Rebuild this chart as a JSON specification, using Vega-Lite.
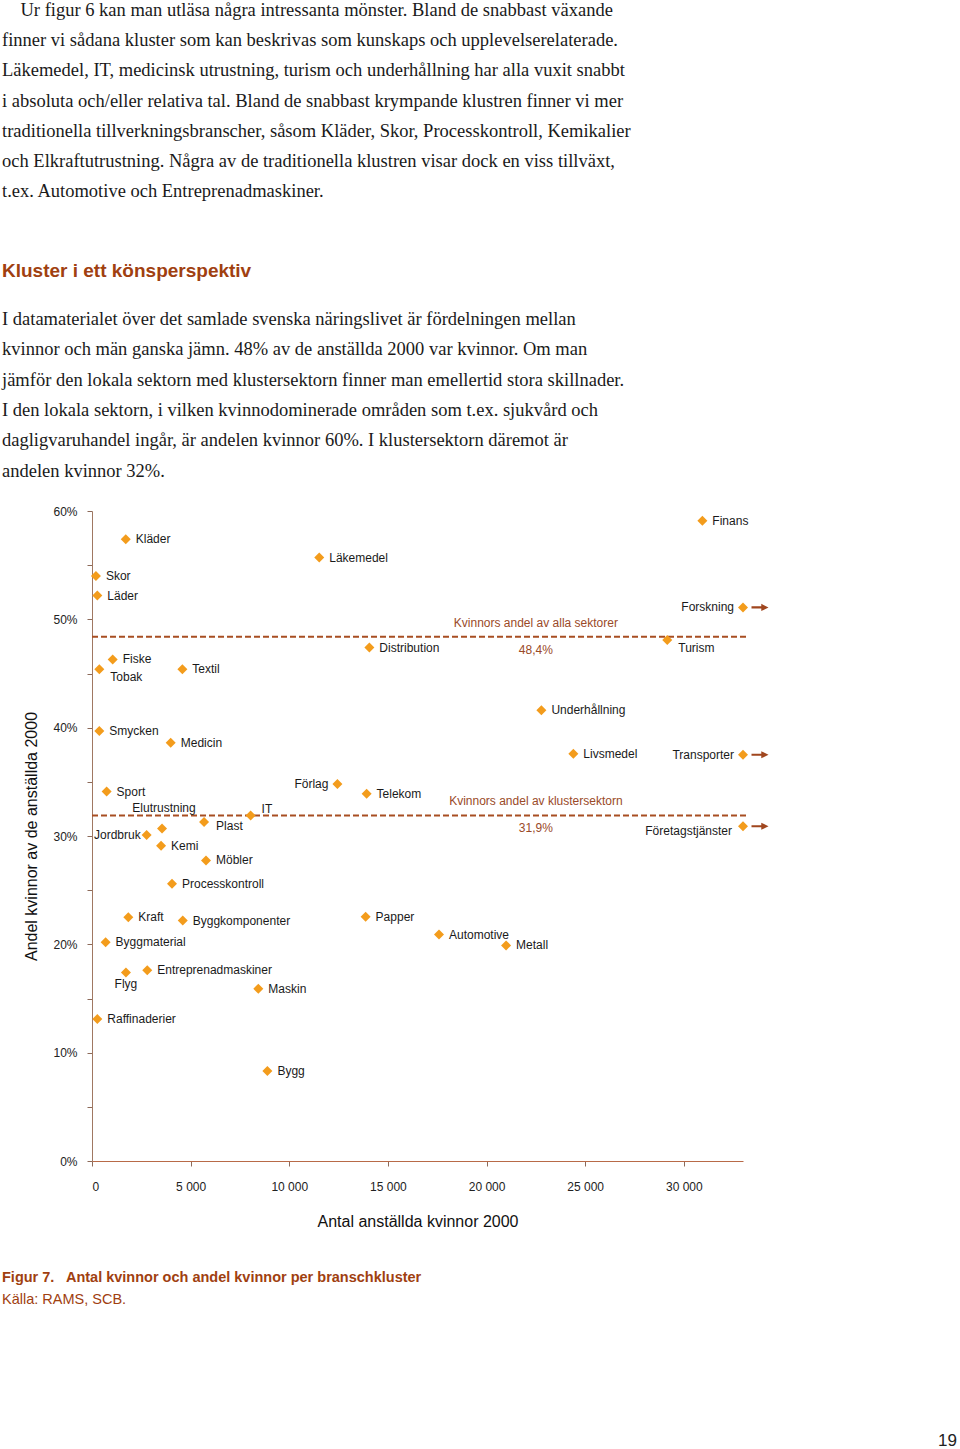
{
  "$schema": "https://vega.github.io/schema/vega-lite/v6.json",
  "padding": {"left": 2, "top": 0, "right": 0, "bottom": 0},
  "background": "white",
  "config": {"view": {"stroke": null}},
  "bounds": "flush",
  "spacing": 152,
  "title": {
    "text": [
      "\u200b\u2002\u2002Ur figur 6 kan man utläsa några intressanta mönster. Bland de snabbast växande",
      "finner vi sådana kluster som kan beskrivas som kunskaps och upplevelserelaterade.",
      "Läkemedel, IT, medicinsk utrustning, turism och underhållning har alla vuxit snabbt",
      "i absoluta och/eller relativa tal. Bland de snabbast krympande klustren finner vi mer",
      "traditionella tillverkningsbranscher, såsom Kläder, Skor, Processkontroll, Kemikalier",
      "och Elkraftutrustning. Några av de traditionella klustren visar dock en viss tillväxt,",
      "t.ex. Automotive och Entreprenadmaskiner."
    ],
    "subtitle": "Kluster i ett könsperspektiv",
    "anchor": "start",
    "frame": "group",
    "dx": -90,
    "font": "Liberation Serif",
    "fontSize": 18.5,
    "fontWeight": "normal",
    "color": "#1a1a1a",
    "lineHeight": 30.3,
    "subtitleFont": "Liberation Sans",
    "subtitleFontSize": 19,
    "subtitleFontWeight": "bold",
    "subtitleColor": "#A04010",
    "subtitlePadding": 61,
    "offset": 29
  },
  "datasets": {
    "points": [
      {"name": "Kläder", "antal": 1710, "andel": 0.574, "pos": "r", "off": false},
      {"name": "Läkemedel", "antal": 11520, "andel": 0.557, "pos": "r", "off": false},
      {"name": "Skor", "antal": 200, "andel": 0.540, "pos": "r", "off": false},
      {"name": "Läder", "antal": 270, "andel": 0.522, "pos": "r", "off": false},
      {"name": "Fiske", "antal": 1050, "andel": 0.463, "pos": "r", "off": false},
      {"name": "Tobak", "antal": 370, "andel": 0.454, "pos": "br", "off": false},
      {"name": "Textil", "antal": 4580, "andel": 0.454, "pos": "r", "off": false},
      {"name": "Distribution", "antal": 14060, "andel": 0.474, "pos": "r", "off": false},
      {"name": "Finans", "antal": 30940, "andel": 0.591, "pos": "r", "off": false},
      {"name": "Forskning", "antal": 33000, "andel": 0.511, "pos": "l", "off": true},
      {"name": "Turism", "antal": 29160, "andel": 0.481, "pos": "br", "off": false},
      {"name": "Underhållning", "antal": 22780, "andel": 0.416, "pos": "r", "off": false},
      {"name": "Smycken", "antal": 370, "andel": 0.397, "pos": "r", "off": false},
      {"name": "Medicin", "antal": 3990, "andel": 0.386, "pos": "r", "off": false},
      {"name": "Sport", "antal": 740, "andel": 0.341, "pos": "r", "off": false},
      {"name": "Förlag", "antal": 12440, "andel": 0.348, "pos": "l", "off": false},
      {"name": "Telekom", "antal": 13920, "andel": 0.339, "pos": "r", "off": false},
      {"name": "IT", "antal": 8040, "andel": 0.319, "pos": "ra", "off": false},
      {"name": "Plast", "antal": 5680, "andel": 0.313, "pos": "rb", "off": false},
      {"name": "Elutrustning", "antal": 3550, "andel": 0.307, "pos": "a", "off": false},
      {"name": "Jordbruk", "antal": 2770, "andel": 0.301, "pos": "lc", "off": false},
      {"name": "Kemi", "antal": 3500, "andel": 0.291, "pos": "r", "off": false},
      {"name": "Möbler", "antal": 5780, "andel": 0.2775, "pos": "r", "off": false},
      {"name": "Processkontroll", "antal": 4055, "andel": 0.256, "pos": "r", "off": false},
      {"name": "Kraft", "antal": 1840, "andel": 0.225, "pos": "r", "off": false},
      {"name": "Byggkomponenter", "antal": 4600, "andel": 0.222, "pos": "r", "off": false},
      {"name": "Papper", "antal": 13870, "andel": 0.2255, "pos": "r", "off": false},
      {"name": "Livsmedel", "antal": 24400, "andel": 0.376, "pos": "r", "off": false},
      {"name": "Transporter", "antal": 33000, "andel": 0.375, "pos": "l", "off": true},
      {"name": "Företagstjänster", "antal": 33000, "andel": 0.309, "pos": "lb", "off": true},
      {"name": "Byggmaterial", "antal": 690, "andel": 0.202, "pos": "r", "off": false},
      {"name": "Flyg", "antal": 1720, "andel": 0.174, "pos": "b", "off": false},
      {"name": "Entreprenadmaskiner", "antal": 2800, "andel": 0.176, "pos": "r", "off": false},
      {"name": "Maskin", "antal": 8430, "andel": 0.159, "pos": "r", "off": false},
      {"name": "Raffinaderier", "antal": 270, "andel": 0.131, "pos": "r", "off": false},
      {"name": "Bygg", "antal": 8890, "andel": 0.083, "pos": "r", "off": false},
      {"name": "Automotive", "antal": 17590, "andel": 0.209, "pos": "r", "off": false},
      {"name": "Metall", "antal": 20990, "andel": 0.199, "pos": "r", "off": false}
    ],
    "refs": [
      {"value": 0.484, "label": "Kvinnors andel av alla sektorer", "pct": "48,4%"},
      {"value": 0.319, "label": "Kvinnors andel av klustersektorn", "pct": "31,9%"}
    ]
  },
  "vconcat": [
    {
      "width": 651,
      "height": 650,
      "title": {
        "text": [
          "I datamaterialet över det samlade svenska näringslivet är fördelningen mellan",
          "kvinnor och män ganska jämn. 48% av de anställda 2000 var kvinnor. Om man",
          "jämför den lokala sektorn med klustersektorn finner man emellertid stora skillnader.",
          "I den lokala sektorn, i vilken kvinnodominerade områden som t.ex. sjukvård och",
          "dagligvaruhandel ingår, är andelen kvinnor 60%. I klustersektorn däremot är",
          "andelen kvinnor 32%."
        ],
        "anchor": "start",
        "frame": "group",
        "dx": -90,
        "font": "Liberation Serif",
        "fontSize": 18.5,
        "fontWeight": "normal",
        "color": "#1a1a1a",
        "lineHeight": 30.3,
        "offset": 25
      },
      "encoding": {
        "x": {
          "type": "quantitative",
          "scale": {"domain": [0, 33000], "nice": false},
          "axis": {
            "title": "Antal anställda kvinnor 2000",
            "values": [0, 5000, 10000, 15000, 20000, 25000, 30000],
            "labelExpr": "replace(format(datum.value, ','), ',', ' ')",
            "grid": false,
            "domainColor": "#B86A48",
            "tickColor": "#8C6A5A",
            "tickSize": 5,
            "labelPadding": 15,
            "labelFont": "Liberation Sans",
            "labelFontSize": 12,
            "labelColor": "#222222",
            "titleFont": "Liberation Sans",
            "titleFontSize": 16,
            "titleFontWeight": "normal",
            "titleColor": "#111111",
            "titlePadding": 21
          }
        },
        "y": {
          "type": "quantitative",
          "scale": {"domain": [0, 0.6], "nice": false},
          "axis": {
            "title": "Andel kvinnor av de anställda 2000",
            "values": [0, 0.05, 0.1, 0.15, 0.2, 0.25, 0.3, 0.35, 0.4, 0.45, 0.5, 0.55, 0.6],
            "labelExpr": "round(datum.value * 100) % 10 == 0 ? format(datum.value, '.0%') : ''",
            "grid": false,
            "domainColor": "#A07862",
            "tickColor": "#8C6A5A",
            "tickSize": 5,
            "labelPadding": 10,
            "labelFont": "Liberation Sans",
            "labelFontSize": 12,
            "labelColor": "#222222",
            "titleFont": "Liberation Sans",
            "titleFontSize": 16,
            "titleFontWeight": "normal",
            "titleColor": "#111111",
            "titlePadding": 13
          }
        }
      },
      "layer": [
        {
          "data": {"name": "refs"},
          "mark": {"type": "rule", "strokeDash": [6, 3], "strokeWidth": 2, "color": "#A84E22", "clip": false},
          "encoding": {
            "y": {"field": "value", "type": "quantitative"},
            "x": {"datum": 0},
            "x2": {"datum": 33250}
          }
        },
        {
          "data": {"name": "refs"},
          "mark": {"type": "text", "dy": -14, "color": "#9A4A28", "font": "Liberation Sans", "fontSize": 12},
          "encoding": {
            "y": {"field": "value", "type": "quantitative"},
            "x": {"datum": 22500},
            "text": {"field": "label"}
          }
        },
        {
          "data": {"name": "refs"},
          "mark": {"type": "text", "dy": 13, "color": "#9A4A28", "font": "Liberation Sans", "fontSize": 12},
          "encoding": {
            "y": {"field": "value", "type": "quantitative"},
            "x": {"datum": 22500},
            "text": {"field": "pct"}
          }
        },
        {
          "data": {"name": "points"},
          "transform": [{"filter": "datum.off"}],
          "mark": {"type": "point", "shape": "M-1,-0.13L0.15,-0.13L0.15,-0.42L1,0L0.15,0.42L0.15,0.13L-1,0.13Z", "size": 289, "filled": true, "opacity": 1, "color": "#A0461E", "xOffset": 17, "clip": false},
          "encoding": {
            "x": {"field": "antal", "type": "quantitative"},
            "y": {"field": "andel", "type": "quantitative"}
          }
        },
        {
          "data": {"name": "points"},
          "mark": {"type": "point", "shape": "diamond", "size": 100, "filled": true, "opacity": 1, "color": "#F39C1C", "clip": false},
          "encoding": {
            "x": {"field": "antal", "type": "quantitative"},
            "y": {"field": "andel", "type": "quantitative"}
          }
        },
        {
          "data": {"name": "points"},
          "transform": [{"filter": "datum.pos == 'r'"}],
          "mark": {"type": "text", "align": "left", "baseline": "middle", "dx": 10, "font": "Liberation Sans", "fontSize": 12, "color": "#1a1a1a"},
          "encoding": {"x": {"field": "antal", "type": "quantitative"}, "y": {"field": "andel", "type": "quantitative"}, "text": {"field": "name"}}
        },
        {
          "data": {"name": "points"},
          "transform": [{"filter": "datum.pos == 'l'"}],
          "mark": {"type": "text", "align": "right", "baseline": "middle", "dx": -9, "font": "Liberation Sans", "fontSize": 12, "color": "#1a1a1a"},
          "encoding": {"x": {"field": "antal", "type": "quantitative"}, "y": {"field": "andel", "type": "quantitative"}, "text": {"field": "name"}}
        },
        {
          "data": {"name": "points"},
          "transform": [{"filter": "datum.pos == 'lc'"}],
          "mark": {"type": "text", "align": "right", "baseline": "middle", "dx": -6, "font": "Liberation Sans", "fontSize": 12, "color": "#1a1a1a"},
          "encoding": {"x": {"field": "antal", "type": "quantitative"}, "y": {"field": "andel", "type": "quantitative"}, "text": {"field": "name"}}
        },
        {
          "data": {"name": "points"},
          "transform": [{"filter": "datum.pos == 'br'"}],
          "mark": {"type": "text", "align": "left", "baseline": "middle", "dx": 11, "dy": 8, "font": "Liberation Sans", "fontSize": 12, "color": "#1a1a1a"},
          "encoding": {"x": {"field": "antal", "type": "quantitative"}, "y": {"field": "andel", "type": "quantitative"}, "text": {"field": "name"}}
        },
        {
          "data": {"name": "points"},
          "transform": [{"filter": "datum.pos == 'rb'"}],
          "mark": {"type": "text", "align": "left", "baseline": "middle", "dx": 12, "dy": 4, "font": "Liberation Sans", "fontSize": 12, "color": "#1a1a1a"},
          "encoding": {"x": {"field": "antal", "type": "quantitative"}, "y": {"field": "andel", "type": "quantitative"}, "text": {"field": "name"}}
        },
        {
          "data": {"name": "points"},
          "transform": [{"filter": "datum.pos == 'ra'"}],
          "mark": {"type": "text", "align": "left", "baseline": "middle", "dx": 11, "dy": -6, "font": "Liberation Sans", "fontSize": 12, "color": "#1a1a1a"},
          "encoding": {"x": {"field": "antal", "type": "quantitative"}, "y": {"field": "andel", "type": "quantitative"}, "text": {"field": "name"}}
        },
        {
          "data": {"name": "points"},
          "transform": [{"filter": "datum.pos == 'lb'"}],
          "mark": {"type": "text", "align": "right", "baseline": "middle", "dx": -11, "dy": 5, "font": "Liberation Sans", "fontSize": 12, "color": "#1a1a1a"},
          "encoding": {"x": {"field": "antal", "type": "quantitative"}, "y": {"field": "andel", "type": "quantitative"}, "text": {"field": "name"}}
        },
        {
          "data": {"name": "points"},
          "transform": [{"filter": "datum.pos == 'a'"}],
          "mark": {"type": "text", "align": "center", "baseline": "middle", "dx": 2, "dy": -20, "font": "Liberation Sans", "fontSize": 12, "color": "#1a1a1a"},
          "encoding": {"x": {"field": "antal", "type": "quantitative"}, "y": {"field": "andel", "type": "quantitative"}, "text": {"field": "name"}}
        },
        {
          "data": {"name": "points"},
          "transform": [{"filter": "datum.pos == 'b'"}],
          "mark": {"type": "text", "align": "center", "baseline": "middle", "dy": 11, "font": "Liberation Sans", "fontSize": 12, "color": "#1a1a1a"},
          "encoding": {"x": {"field": "antal", "type": "quantitative"}, "y": {"field": "andel", "type": "quantitative"}, "text": {"field": "name"}}
        }
      ]
    },
    {
      "width": 865,
      "height": 137,
      "title": {
        "text": "Figur 7.\u00a0\u00a0 Antal kvinnor och andel kvinnor per branschkluster",
        "subtitle": "Källa: RAMS, SCB.",
        "anchor": "start",
        "frame": "group",
        "dx": -90,
        "font": "Liberation Sans",
        "fontSize": 14.5,
        "fontWeight": "bold",
        "color": "#A04010",
        "subtitleFont": "Liberation Sans",
        "subtitleFontSize": 14.5,
        "subtitleColor": "#A04010",
        "subtitlePadding": 7,
        "offset": 6
      },
      "data": {"values": [{"page": "19"}]},
      "mark": {"type": "text", "align": "right", "baseline": "bottom", "font": "Liberation Sans", "fontSize": 17, "color": "#222222"},
      "encoding": {
        "text": {"field": "page"},
        "x": {"value": "width"},
        "y": {"value": "height"}
      }
    }
  ]
}
